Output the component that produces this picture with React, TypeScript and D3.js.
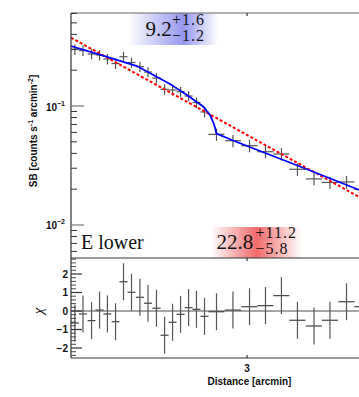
import React, { useEffect, useRef } from 'react';
import * as d3 from 'd3';

// radial bins (arcmin) and half widths
const distance = [2.018, 2.056, 2.097, 2.136, 2.175, 2.216, 2.257, 2.299, 2.344, 2.388, 2.435, 2.481, 2.527, 2.574, 2.622, 2.670, 2.720,
  2.796, 2.904, 3.017, 3.130, 3.247, 3.369, 3.500, 3.631, 3.772, 3.913];
const distErr = [0.019, 0.019, 0.019, 0.020, 0.020, 0.020, 0.021, 0.021, 0.022, 0.022, 0.023, 0.023, 0.023, 0.024, 0.024, 0.025, 0.025,
  0.052, 0.054, 0.056, 0.058, 0.060, 0.063, 0.065, 0.068, 0.070, 0.073];
// surface brightness
const sb = [0.2985, 0.2928, 0.2735, 0.2683, 0.2483, 0.2276, 0.2596, 0.2320, 0.2139, 0.1931, 0.1719, 0.1381, 0.1363, 0.1319, 0.1213, 0.1070, 0.0891,
  0.0578, 0.0511, 0.0464, 0.0413, 0.0395, 0.0294, 0.0244, 0.0228, 0.0230, 0.0199];
const sbErr = [0.030, 0.029, 0.027, 0.027, 0.025, 0.023, 0.026, 0.023, 0.021, 0.019, 0.017, 0.014, 0.014, 0.013, 0.012, 0.011, 0.009,
  0.0069, 0.0061, 0.0056, 0.0050, 0.0047, 0.0035, 0.0029, 0.0027, 0.0028, 0.0024];
// residuals
const chi = [-0.65, -0.16, -0.52, 0.05, -0.16, -0.58, 1.58, 1.01, 0.74, 0.42, 0.15, -1.31, -0.61, -0.18, 0.18, 0.09, -0.29,
  -0.04, 0.05, 0.23, 0.29, 0.83, -0.5, -0.81, -0.5, 0.5, 0.23];

// broken power-law model (blue)
const modelX = [2.0, 2.153, 2.328, 2.512, 2.612, 2.711, 2.755, 2.780, 2.796, 2.904, 3.389, 4.0];
const modelY = [0.3193, 0.2657, 0.2168, 0.1531, 0.1237, 0.0990, 0.0840, 0.0706, 0.0587, 0.0513, 0.0310, 0.01787];
// single power law (red dashed)
const powerX = [2.0, 4.0];
const powerY = [0.3757, 0.01498];

const sbTicks = [0.01, 0.1];
const sbTickExp = ['−2', '−1'];
const chiTicks = [-2, -1, 0, 1, 2];
const distTicks = [3];

const App = () => {
  const svgRef = useRef(null);

  useEffect(() => {
    const W = 359, H = 397;
    const left = 71, right = 372, top = 13, mid = 258, bottom = 358;

    const svg = d3.select(svgRef.current);
    svg.selectAll('*').remove();
    svg.attr('width', W).attr('height', H);

    const x = d3.scaleLog().domain([2, 4]).range([left, right]);
    const y = d3.scaleLog().domain([0.00528, 0.605]).range([mid, top]);
    const r = d3.scaleLinear().domain([-2.54, 2.81]).range([bottom, mid + 1]);

    const defs = svg.append('defs');
    const grad = (id, c, peak) => {
      const g = defs.append('linearGradient').attr('id', id).attr('x1', 0).attr('x2', 1).attr('y1', 0).attr('y2', 0);
      g.append('stop').attr('offset', '0%').attr('stop-color', c).attr('stop-opacity', 0);
      g.append('stop').attr('offset', peak).attr('stop-color', c).attr('stop-opacity', 1);
      g.append('stop').attr('offset', '100%').attr('stop-color', c).attr('stop-opacity', 0);
    };
    grad('gb', '#9597ef', '62%');
    grad('gr', '#f26a6a', '50%');
    defs.append('clipPath').attr('id', 'cTop').append('rect')
      .attr('x', left).attr('y', top).attr('width', right - left).attr('height', mid - top);
    defs.append('clipPath').attr('id', 'cBot').append('rect')
      .attr('x', left).attr('y', mid).attr('width', right - left).attr('height', bottom - mid);

    // annotation boxes
    svg.append('rect').attr('x', 128).attr('y', top).attr('width', 90).attr('height', 32).attr('fill', 'url(#gb)');
    svg.append('rect').attr('x', 211).attr('y', 227).attr('width', 91).attr('height', mid - 227).attr('fill', 'url(#gr)');

    const gTop = svg.append('g').attr('clip-path', 'url(#cTop)');
    const gBot = svg.append('g').attr('clip-path', 'url(#cBot)');

    // zero line
    gBot.append('line').attr('x1', left).attr('x2', right).attr('y1', r(0)).attr('y2', r(0))
      .attr('stroke', '#888').attr('stroke-width', 1.5);

    // data crosses
    const idx = d3.range(distance.length);
    gTop.selectAll('.hx').data(idx).enter().append('line')
      .attr('x1', i => x(distance[i] - distErr[i])).attr('x2', i => x(distance[i] + distErr[i]))
      .attr('y1', i => y(sb[i])).attr('y2', i => y(sb[i]))
      .attr('stroke', '#555').attr('stroke-width', 1.2);
    gTop.selectAll('.vx').data(idx).enter().append('line')
      .attr('x1', i => x(distance[i])).attr('x2', i => x(distance[i]))
      .attr('y1', i => y(sb[i] - sbErr[i])).attr('y2', i => y(sb[i] + sbErr[i]))
      .attr('stroke', '#555').attr('stroke-width', 1.2);

    const lineOf = (xs, ys) => d3.line().x(d => x(d[0])).y(d => y(d[1]))(xs.map((v, i) => [v, ys[i]]));
    gTop.append('path').attr('d', lineOf(powerX, powerY)).attr('fill', 'none')
      .attr('stroke', '#ff0000').attr('stroke-width', 2).attr('stroke-dasharray', '3,2');
    gTop.append('path').attr('d', lineOf(modelX, modelY)).attr('fill', 'none')
      .attr('stroke', '#0000ff').attr('stroke-width', 1.8);

    // residual crosses
    gBot.selectAll('.hr').data(idx).enter().append('line')
      .attr('x1', i => x(distance[i] - distErr[i])).attr('x2', i => x(distance[i] + distErr[i]))
      .attr('y1', i => r(chi[i])).attr('y2', i => r(chi[i]))
      .attr('stroke', '#444').attr('stroke-width', 1.2);
    gBot.selectAll('.vr').data(idx).enter().append('line')
      .attr('x1', i => x(distance[i])).attr('x2', i => x(distance[i]))
      .attr('y1', i => r(chi[i] - 1)).attr('y2', i => r(chi[i] + 1))
      .attr('stroke', '#555').attr('stroke-width', 1.2);

    // frames
    const ax = svg.append('g').attr('stroke', '#333').attr('stroke-width', 1.2);
    ax.append('line').attr('x1', left).attr('x2', right).attr('y1', top).attr('y2', top).attr('stroke', '#666');
    ax.append('line').attr('x1', left).attr('x2', right).attr('y1', mid).attr('y2', mid);
    ax.append('line').attr('x1', left).attr('x2', right).attr('y1', bottom).attr('y2', bottom);
    ax.append('line').attr('x1', left).attr('x2', left).attr('y1', top).attr('y2', bottom);

    // log y ticks
    const minor = [];
    [0.001, 0.01, 0.1].forEach(d => d3.range(2, 10).forEach(k => minor.push(d * k)));
    ax.selectAll('.ym').data(minor.filter(v => v > 0.00528 && v < 0.605)).enter().append('line')
      .attr('x1', left).attr('x2', left + 6).attr('y1', d => y(d)).attr('y2', d => y(d)).attr('stroke-width', 1);
    ax.selectAll('.yM').data(sbTicks).enter().append('line')
      .attr('x1', left).attr('x2', left + 13).attr('y1', d => y(d)).attr('y2', d => y(d)).attr('stroke', '#777');

    // chi ticks
    const chiMinor = d3.range(-24, 29, 2).map(v => v / 10).filter(v => Math.abs(v - Math.round(v)) > 0.01);
    ax.selectAll('.rm').data(chiMinor).enter().append('line')
      .attr('x1', left).attr('x2', left + 5).attr('y1', d => r(d)).attr('y2', d => r(d)).attr('stroke-width', 0.9);
    ax.selectAll('.rM').data(chiTicks).enter().append('line')
      .attr('x1', left).attr('x2', left + 11).attr('y1', d => r(d)).attr('y2', d => r(d));

    // distance ticks
    distTicks.forEach(t => {
      ax.append('line').attr('x1', x(t)).attr('x2', x(t)).attr('y1', top).attr('y2', top + 3);
      ax.append('line').attr('x1', x(t)).attr('x2', x(t)).attr('y1', mid).attr('y2', mid + 3);
      ax.append('line').attr('x1', x(t)).attr('x2', x(t)).attr('y1', bottom).attr('y2', bottom - 3);
    });

    const sans = 'Liberation Sans, Arial, sans-serif';
    const serif = 'Liberation Serif, Times New Roman, serif';

    sbTicks.forEach((t, i) => {
      const tx = svg.append('text').attr('x', 65).attr('y', y(t) + 4.5).attr('text-anchor', 'end')
        .attr('font-family', sans).attr('font-size', 10).attr('font-weight', 'bold').attr('fill', '#111');
      tx.append('tspan').text('10');
      tx.append('tspan').attr('dy', -5).attr('font-size', 7).text(sbTickExp[i]);
    });
    svg.selectAll('.rl').data(chiTicks).enter().append('text')
      .attr('x', 68).attr('y', d => r(d) + 3.6).attr('text-anchor', 'end')
      .attr('font-family', sans).attr('font-size', 10).attr('font-weight', 'bold').attr('fill', '#111')
      .text(d => (d < 0 ? '−' + Math.abs(d) : String(d)));
    svg.selectAll('.xl').data(distTicks).enter().append('text')
      .attr('x', d => x(d)).attr('y', 371.5).attr('text-anchor', 'middle')
      .attr('font-family', sans).attr('font-size', 10).attr('font-weight', 'bold').attr('fill', '#111')
      .text(d => d);
    svg.append('text').attr('x', 249.5).attr('y', 385).attr('text-anchor', 'middle')
      .attr('font-family', sans).attr('font-size', 10).attr('font-weight', 'bold').attr('fill', '#111')
      .text('Distance [arcmin]');

    const yt = svg.append('text').attr('transform', 'translate(37,131) rotate(-90)').attr('text-anchor', 'middle')
      .attr('font-family', sans).attr('font-size', 10).attr('font-weight', 'bold').attr('fill', '#111');
    yt.append('tspan').text('SB [counts s');
    yt.append('tspan').attr('dy', -4).attr('font-size', 7).text('-1');
    yt.append('tspan').attr('dy', 4).text(' arcmin');
    yt.append('tspan').attr('dy', -4).attr('font-size', 7).text('-2');
    yt.append('tspan').attr('dy', 4).text(']');

    svg.append('text').attr('transform', 'translate(43,311) rotate(-90)').attr('text-anchor', 'middle')
      .attr('font-family', serif).attr('font-style', 'italic').attr('font-size', 15).attr('fill', '#111').text('χ');

    // annotations
    const ann = (x0, base, main, up, dn, xs) => {
      svg.append('text').attr('x', x0).attr('y', base).attr('font-family', serif).attr('font-size', 21)
        .attr('fill', '#111').text(main);
      svg.append('text').attr('x', xs).attr('y', base - 11).attr('font-family', serif).attr('font-size', 16)
        .attr('letter-spacing', 1).attr('fill', '#111').text(up);
      svg.append('text').attr('x', xs).attr('y', base + 5).attr('font-family', serif).attr('font-size', 16)
        .attr('letter-spacing', 1).attr('fill', '#111').text(dn);
    };
    ann(145.5, 36, '9.2', '+1.6', '−1.2', 172);
    ann(216.5, 248.5, '22.8', '+11.2', '−5.8', 255.5);

    svg.append('text').attr('x', 81).attr('y', 249).attr('font-family', serif).attr('font-size', 20)
      .attr('fill', '#111').text('E lower');
  }, []);

  return (
    <div style={{ position: 'absolute', left: 0, top: 0 }}>
      <svg ref={svgRef} style={{ display: 'block' }}></svg>
    </div>
  );
};

export default App;
